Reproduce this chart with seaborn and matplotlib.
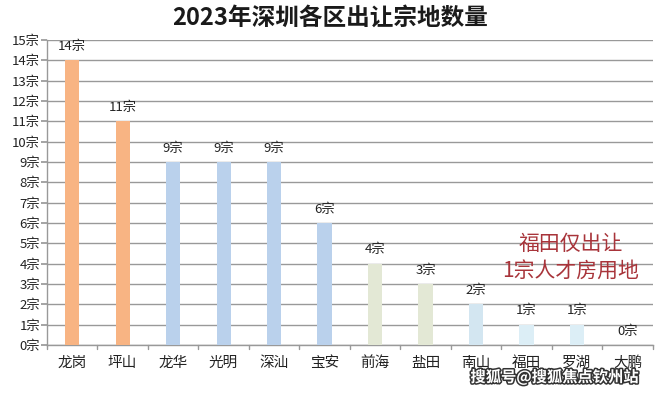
import seaborn as sns
import matplotlib.pyplot as plt
import matplotlib.patheffects as pe
import pandas as pd

districts = ['龙岗', '坪山', '龙华', '光明', '深汕', '宝安', '前海', '盐田', '南山', '福田', '罗湖', '大鹏']
counts = [14, 11, 9, 9, 9, 6, 4, 3, 2, 1, 1, 0]
bar_colors = ['#F8B483', '#F8B483', '#BAD1EC', '#BAD1EC', '#BAD1EC', '#BAD1EC',
              '#E3E8D5', '#E3E8D5', '#D3E6F1', '#DCEEF6', '#DCEEF6', '#DCEEF6']
y_ticks = list(range(0, 16))
y_labels = [f'{v}宗' for v in y_ticks]

sns.set_theme(style='white')
plt.rcParams['font.family'] = ['Noto Sans CJK SC', 'DejaVu Sans']

df = pd.DataFrame({'district': districts, 'count': counts})

fig = plt.figure(figsize=(6.6, 3.95), dpi=100)
ax = fig.add_axes([0.071, 0.127, 0.918, 0.772])

sns.barplot(data=df, x='district', y='count', hue='district', palette=bar_colors,
            width=0.28, saturation=1, linewidth=0, legend=False, ax=ax, zorder=3)

ax.set_ylim(0, 15)
ax.set_xlim(-0.5, len(districts) - 0.5)
ax.set_yticks(y_ticks)
ax.set_yticklabels(y_labels, fontsize=9.5, color='#222222')
ax.yaxis.grid(True, color='#999999', linewidth=1.0, zorder=0)
ax.set_axisbelow(True)
ax.tick_params(axis='x', labelsize=10.5, colors='#222222', length=0, pad=8)
ax.tick_params(axis='y', length=4, color='#999999', left=True, pad=1)
ax.set_xlabel('')
ax.set_ylabel('')

# tick marks between categories on the x axis
for b in range(len(districts) + 1):
    ax.plot([b - 0.5, b - 0.5], [0, -0.2], color='#999999', lw=1, clip_on=False)

for s in ['top', 'right']:
    ax.spines[s].set_visible(False)
for s in ['left', 'bottom']:
    ax.spines[s].set_color('#999999')
    ax.spines[s].set_linewidth(1.0)

for i, v in enumerate(counts):
    ax.text(i, v + 0.35, f'{v}宗', ha='center', va='bottom', fontsize=9.5, color='#222222')

fig.text(0.5, 0.955, '2023年深圳各区出让宗地数量', ha='center', va='center',
         fontsize=17, color='#1a1a1a', fontweight='bold')

ax.text(9.87, 4.26, '福田仅出让\n1宗人才房用地', ha='center', va='center', fontsize=15,
        color='#A8343A', linespacing=1.35, zorder=5)

fig.text(0.84, 0.045, '搜狐号@搜狐焦点钦州站', ha='center', va='center', fontsize=11,
         color='white', fontweight='bold',
         path_effects=[pe.withStroke(linewidth=2.2, foreground='#333333')])

fig.savefig('out.png', dpi=100)
